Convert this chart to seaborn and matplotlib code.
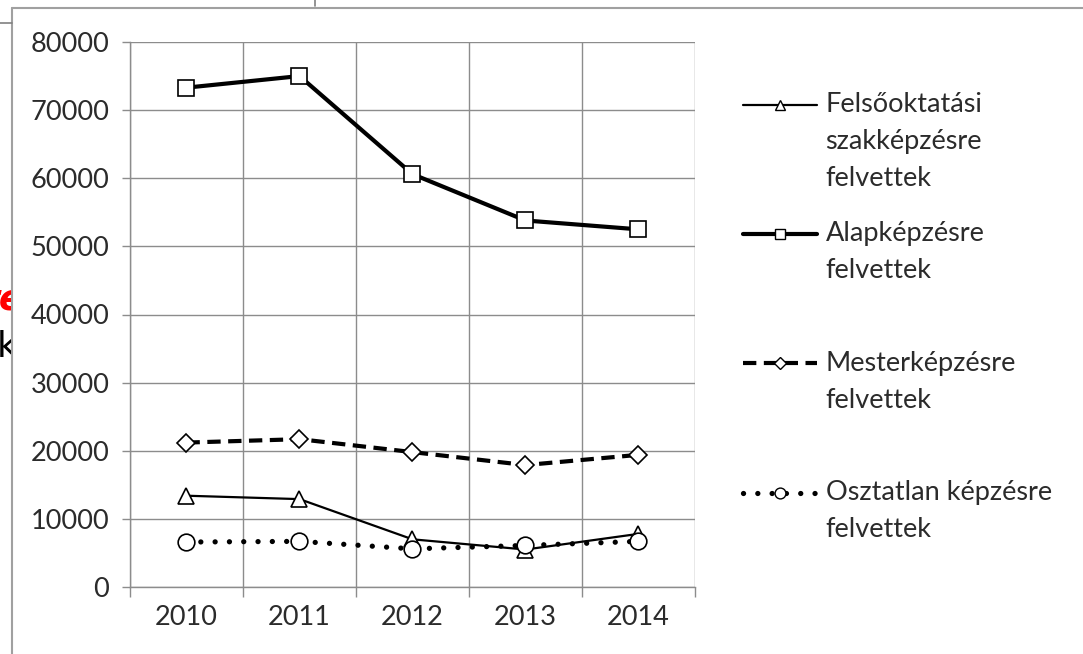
import numpy as np
import pandas as pd
import matplotlib
matplotlib.use("Agg")
import matplotlib.pyplot as plt
import seaborn as sns
from matplotlib.lines import Line2D
from matplotlib.legend_handler import HandlerLine2D
from matplotlib.transforms import Bbox, IdentityTransform, TransformedBbox

# ---- data ----
years = [2010, 2011, 2012, 2013, 2014]
felso = [13400, 12900, 7000, 5500, 7800]
alap = [73300, 75000, 60600, 53800, 52500]
mester = [21200, 21700, 19800, 17900, 19400]
osztatlan = [6600, 6700, 5600, 6100, 6700]
series_labels = [
    "Felsőoktatási\nszakképzésre\nfelvettek",
    "Alapképzésre\nfelvettek",
    "Mesterképzésre\nfelvettek",
    "Osztatlan képzésre\nfelvettek",
]
y_ticks = list(range(0, 80001, 10000))

sns.set_theme(style="white")
plt.rcParams['font.family'] = ['Lato', 'DejaVu Sans']

W, H = 1083, 654
fig = plt.figure(figsize=(W / 100, H / 100), dpi=100)
fig.patch.set_facecolor("white")

ax = fig.add_axes([130 / W, 1 - 587 / H, (695 - 130) / W, (587 - 42) / H])
ax.set_facecolor("white")

styles = [
    dict(linewidth=1.6, linestyle='-', marker='^', markersize=12),
    dict(linewidth=3.0, linestyle='-', marker='s', markersize=11.5),
    dict(linewidth=3.0, linestyle=(0, (3.2, 1.8)), marker='D', markersize=9),
    dict(linewidth=3.8, linestyle=(0, (0.01, 2.7)), marker='o', markersize=12,
         dash_capstyle='round'),
]
all_vals = [felso, alap, mester, osztatlan]

handles = []
for vals, st in zip(all_vals, styles):
    sns.lineplot(x=years, y=vals, ax=ax, color='black',
                 markerfacecolor='white', markeredgecolor='black',
                 markeredgewidth=1.2, legend=False, zorder=3, **st)
    hst = dict(st)
    hst['markersize'] = st['markersize'] * 0.65
    handles.append(Line2D([], [], color='black', markerfacecolor='white',
                          markeredgecolor='black', markeredgewidth=1.0, **hst))

ax.set_xlim(2009.5, 2014.5)
ax.set_ylim(0, 80000)
ax.set_xticks(years)
ax.set_xticklabels([str(y) for y in years])
ax.set_xticks(np.arange(2009.5, 2015.0, 1.0), minor=True)
ax.set_yticks(y_ticks)
ax.set_yticklabels([str(v) for v in y_ticks])

grid_c = '#8c8c8c'
ax.grid(axis='y', which='major', color=grid_c, linewidth=1.0)
ax.grid(axis='x', which='minor', color=grid_c, linewidth=1.0)
ax.grid(axis='x', which='major', visible=False)
for s in ['top', 'right']:
    ax.spines[s].set_visible(False)
for s in ['left', 'bottom']:
    ax.spines[s].set_color(grid_c)
    ax.spines[s].set_linewidth(1.0)
ax.set_axisbelow(True)

txt_c = '#2b2b2b'
fs = 19.5
ax.tick_params(axis='x', which='major', bottom=True, length=0, pad=13,
               labelsize=fs, labelcolor=txt_c)
ax.tick_params(axis='x', which='minor', bottom=True, length=7, width=1.0,
               color=grid_c, direction='out')
ax.tick_params(axis='y', which='major', left=True, length=6, width=1.0,
               color=grid_c, direction='out', pad=9, labelsize=fs,
               labelcolor=txt_c)


class ShiftHandler(HandlerLine2D):
    def __init__(self, shift, **kw):
        super().__init__(**kw)
        self.shift = shift

    def create_artists(self, legend, orig_handle, xdescent, ydescent,
                       width, height, fontsize, trans):
        arts = super().create_artists(legend, orig_handle, xdescent, ydescent,
                                      width, height, fontsize, trans)
        for a in arts:
            a.set_ydata(np.asarray(a.get_ydata(), dtype=float) + self.shift)
        return arts


# pad labels to three lines so all entries have equal height
padded = [lab if lab.count("\n") == 2 else lab + "\n " for lab in series_labels]
line_shift = 27.0
leg = ax.legend(handles, padded, loc='upper left',
                bbox_to_anchor=(743 / W, 1 - 92 / H),
                bbox_transform=fig.transFigure, frameon=False,
                fontsize=fs, handlelength=2.75, handletextpad=0.3,
                labelspacing=1.12, borderpad=0, borderaxespad=0,
                handler_map={h: ShiftHandler(line_shift) for h in handles})
for t in leg.get_texts():
    t.set_color(txt_c)
    t.set_linespacing(1.6)

# ---- surrounding screenshot frame ----
frame_c = '#a0a0a0'
fig.add_artist(Line2D([12 / W, 12 / W], [0, 1 - 8 / H], transform=fig.transFigure,
                      color=frame_c, lw=1.5))
fig.add_artist(Line2D([12 / W, 1], [1 - 8 / H, 1 - 8 / H], transform=fig.transFigure,
                      color=frame_c, lw=1.5))
fig.add_artist(Line2D([0, 12 / W], [1 - 23 / H, 1 - 23 / H], transform=fig.transFigure,
                      color='#808080', lw=1.2))
fig.add_artist(Line2D([315 / W, 315 / W], [1, 1 - 6 / H], transform=fig.transFigure,
                      color='#808080', lw=1.2))

clip = Bbox([[0, 0], [11, H]])
t1 = fig.text(24 / W, 1 - 310 / H, "re", color='red', fontsize=26,
              fontweight='bold', fontstyle='italic', ha='right', va='baseline',
              family=['DejaVu Sans'])
t2 = fig.text(18 / W, 1 - 357 / H, "k", color='black', fontsize=26,
              ha='right', va='baseline', family=['DejaVu Sans'])
for t in (t1, t2):
    t.set_clip_on(True)
    t.set_clip_box(TransformedBbox(clip, IdentityTransform()))

fig.savefig("out.png", dpi=100)
